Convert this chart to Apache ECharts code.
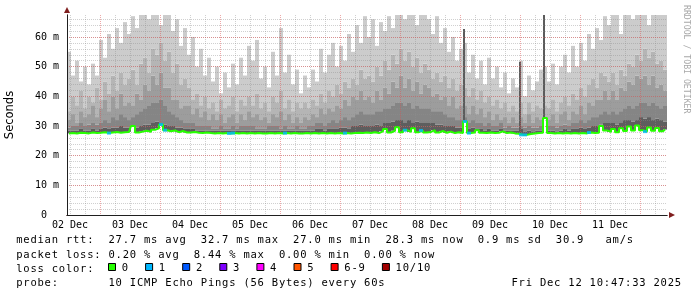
<!DOCTYPE html>
<html>
<head>
<meta charset="utf-8">
<script src="https://cdn.jsdelivr.net/npm/echarts@6/dist/echarts.min.js"></script>
<style>html,body{margin:0;padding:0;background:#fff}#c{width:697px;height:297px}</style>
</head>
<body>
<div id="c"></div>
<script>
// ---- time frame (hours since 02 Dec 00:00) ----
const START_HOUR = 10 + 47 / 60 + 33 / 3600;   // Dec 2 10:47:33
const SPAN_HOURS = 240;                          // last 10 days
const Y_MAX = 67.4;                              // ms at top of plot
const dayLabels = ['02 Dec','03 Dec','04 Dec','05 Dec','06 Dec','07 Dec','08 Dec','09 Dec','10 Dec','11 Dec'];

// ---- median rtt per bin (ms), 150 bins of 96 min ----
const medianRtt = [
  27.5,27.6,27.5,27.7,27.6,27.5,27.8,27.6,27.7,27.9,27.6,27.8,28.0,27.7,27.9,
  28.0,30.0,27.8,28.1,28.4,28.0,28.7,29.2,30.5,28.6,28.2,28.5,27.9,28.3,27.8,
  27.8,28.0,27.7,27.6,27.8,27.6,27.5,27.6,27.5,27.6,27.5,27.6,27.5,27.6,27.5,
  27.6,27.5,27.6,27.5,27.5,27.6,27.5,27.6,27.5,27.6,27.5,27.6,27.5,27.5,27.6,
  27.5,27.6,27.5,27.6,27.5,27.6,27.5,27.6,27.5,27.6,27.5,27.6,27.7,27.6,27.8,
  27.6,27.9,27.6,28.2,29.0,27.8,28.4,29.6,27.9,28.6,28.0,29.2,27.9,28.5,27.8,
  28.0,28.6,27.8,28.3,27.7,28.1,27.6,27.9,27.6,31.5,27.6,27.8,28.6,27.7,27.6,
  27.8,27.6,27.7,28.2,27.6,27.8,27.5,27.4,27.0,27.0,27.3,27.5,27.6,27.7,32.7,
  27.6,27.5,27.6,27.5,27.6,27.5,27.6,27.5,27.6,27.5,27.8,27.6,27.7,30.0,28.5,
  28.0,29.0,27.9,29.2,28.3,29.8,28.5,30.2,28.6,28.1,29.5,28.4,29.3,28.2,28.8
];

// ---- lost pings (of 10) per bin ----
const lostPings = [
  0,0,0,0,0,0,0,0,0,0,1,0,0,0,0,
  0,0,0,0,0,0,0,0,1,1,0,0,0,0,0,
  0,0,0,0,0,0,0,0,0,0,1,1,0,0,0,
  0,0,0,0,0,0,0,0,0,1,0,0,0,0,0,
  0,0,0,0,0,0,0,0,0,1,0,0,0,0,0,
  0,0,0,0,0,0,0,0,0,1,0,0,0,1,0,
  0,0,0,0,0,0,0,0,0,1,1,0,0,0,0,
  0,0,0,0,0,0,0,0,1,1,0,0,0,0,0,
  0,0,0,0,0,0,0,0,0,0,1,0,0,0,0,
  0,0,0,0,0,0,0,0,0,1,0,0,0,0,0
];

// ---- smoke layers: top of each shade (ms), outermost first ----
const smokeL1 = [
  55,47,52,45,50,44,51,47,59,53,61,56,63,58,65,
  61,67,63,68,68,66,68,68,64,68,68,62,66,57,63,
  54,60,50,56,47,53,45,50,41,48,43,51,44,53,47,
  57,52,59,46,50,43,55,47,63,48,54,44,49,41,47,
  43,49,45,56,48,54,58,50,57,52,61,55,64,58,67,
  60,66,57,65,62,67,63,68,68,66,68,68,64,68,68,
  66,61,67,58,63,55,60,52,56,58,48,54,46,52,44,
  53,46,50,43,48,41,46,43,52,40,47,42,45,49,50,
  45,51,44,50,54,48,57,50,58,52,61,56,63,59,67,
  64,68,68,61,68,68,66,68,68,68,64,68,68,68,68
];
const smokeL2 = [
  35,40,37,42,36,40,38,43,39,45,41,47,42,48,44,
  46,49,44,51,53,48,56,54,58,52,55,48,51,44,46,
  43,39,41,37,40,36,38,35,39,36,37,40,35,39,37,
  40,37,41,36,38,35,40,38,42,36,39,35,38,36,38,
  36,39,37,41,38,42,40,44,41,45,43,46,44,49,46,
  47,45,50,47,52,49,54,51,56,52,55,50,53,48,51,
  49,46,48,45,47,43,46,42,44,43,40,43,39,42,38,
  40,37,39,36,38,35,37,35,38,34,38,35,37,36,37,
  36,39,35,38,40,37,41,39,43,40,44,46,43,48,47,
  45,48,44,49,47,51,50,54,52,56,53,55,51,52,49
];
const smokeL3 = [
  32,34,31,35,33,34,37,33,36,39,35,40,36,41,37,
  38,37,41,39,44,42,47,44,48,43,43,39,39,36,37,
  37,34,36,33,35,32,34,32,34,31,33,34,31,34,32,
  35,33,34,32,33,31,34,33,35,32,34,31,33,31,33,
  32,34,33,36,34,36,35,37,36,39,37,40,39,42,39,
  40,38,42,39,43,41,45,43,47,43,46,42,45,41,44,
  43,40,41,39,40,37,40,36,37,37,34,37,34,36,33,
  35,32,34,32,33,31,33,31,33,31,34,31,33,32,33,
  32,34,31,34,35,32,35,34,37,34,38,37,39,39,42,
  39,42,39,43,42,45,44,47,46,47,44,47,43,44,42
];
const smokeL4 = [
  29.5,30,30,31,30,30.5,31,30.5,31,32,31,33,32,34,33,
  32,33,34,35,36,37,38,38,39,37,35,34,33,32,31,
  31,31,30,30,30,30,29,29,30,29,29,30,29,30,30,
  30,30,29,29,29,30,30,30,29,30,29,29,30,29,29,
  30,30,31,31,30,31,32,31,32,33,32,33,34,35,34,
  34,34,35,35,36,36,37,38,38,37,38,36,37,36,36,
  36,35,35,35,34,33,33,32,32,33,31,32,31,31,30,
  31,30,30,31,29.5,30,29.5,29.5,30,29.5,30,29.5,29.5,30,33,
  30,30,29.5,30,30.5,30,31,31,32,31,32,33,33,34,35,
  34,35,34,35,36,37,36,37,38,38,37,38,37,36,37
];
const smokeL5 = [
  28.5,28.5,28.5,29,28.5,28.5,29,28.5,29,29.5,29,29.5,29.5,30,29.5,
  29.5,30.3,29.5,30,30.5,30.5,31,31.5,31,30.5,30,30,29.5,29.5,29,
  29,29,28.5,28.5,28.5,28.5,28.5,28.5,28.5,28.5,28.5,28.5,28.5,28.5,28.5,
  28.5,28.5,28.5,28.5,28.5,28.5,28.5,28.5,28.5,28.5,28.5,28.5,28.5,28.5,28.5,
  28.5,28.5,29,29,28.5,29,29,29,29.5,29.5,29,30,30,30.5,30,
  30,30,30.5,30,31,31,31.5,32,32,31,32,31,31.5,31,31,
  31,31,30.5,30.5,30,30,30,29.5,29.5,32,29,29.5,29,29,28.5,
  29,28.5,28.5,29,28.5,28.5,28.5,28.5,29,28,28.5,28,28.5,28.5,32.7,
  28.5,28.5,28,28.5,29,28.5,29,29,29.5,29,29.5,30,30,30.5,31,
  31,31,30.5,31,32,32,31.5,32,33,32.5,33,32,32.5,32,31.5
];

// ---- isolated all-pings-high spikes (bin index, top in ms) ----
const spikeBins = [99, 113, 119];
const spikeTops = [62.7, 51.6, 68];

// ---- legend / text ----
const lossLabels = ['0','1','2','3','4','5','6-9','10/10'];
const lossColors = ['#26ff00','#00b8ff','#0059ff','#7e00ff','#ff00ff','#ff5500','#ff0000','#a10000'];
const statLines = [
  'median rtt:  27.7 ms avg  32.7 ms max  27.0 ms min  28.3 ms now  0.9 ms sd  30.9   am/s',
  'packet loss: 0.20 % avg  8.44 % max  0.00 % min  0.00 % now',
  'loss color:',
  'probe:       10 ICMP Echo Pings (56 Bytes) every 60s'
];
const dateStamp = 'Fri Dec 12 10:47:33 2025';
const watermark = 'RRDTOOL / TOBI OETIKER';
const yAxisTitle = 'Seconds';

// ================= build =================
const MONO = '"DejaVu Sans Mono", monospace';
const cats = medianRtt.map((_, i) => i);
const shadeColors = ['#5e5e5e', '#858585', '#9d9d9d', '#b5b5b5', '#cccccc'];
const layers = [smokeL5, smokeL4, smokeL3, smokeL2, smokeL1];
const BAND = 4; // px per bin (600 px / 150 bins)

let prevTop = medianRtt.slice();
const smokeSeries = layers.map((arr, k) => {
  const deltas = arr.map((v, i) => {
    const top = Math.max(v, prevTop[i]);
    return +(top - prevTop[i]).toFixed(3);
  });
  prevTop = arr.map((v, i) => Math.max(v, prevTop[i]));
  return {
    type: 'bar', stack: 'smoke', data: deltas, xAxisIndex: 0, yAxisIndex: 1,
    barWidth: BAND, barGap: '-100%', barCategoryGap: '0%', silent: true, z: 2,
    itemStyle: { color: shadeColors[k] }
  };
});

// spike columns (thin, own stack)
const spikeBase = medianRtt.map((v, i) => (spikeBins.indexOf(i) >= 0 ? v : '-'));
const spikeDelta = medianRtt.map((v, i) => {
  const j = spikeBins.indexOf(i);
  return j >= 0 ? +(spikeTops[j] - v).toFixed(3) : '-';
});

function lossBucket(n) { return n <= 5 ? n : (n < 10 ? 6 : 7); }
const lossPoints = [];
lostPings.forEach((n, i) => {
  if (n > 0) lossPoints.push({ value: [i, medianRtt[i]], itemStyle: { color: lossColors[lossBucket(n)] } });
});

// grid helper hour lists
const firstTick = Math.ceil(START_HOUR / 6) * 6;
const minorHours = [], majorHours = [];
for (let h = firstTick; h <= START_HOUR + SPAN_HOURS; h += 6) {
  if (h % 24 === 0) majorHours.push(h); else minorHours.push(h);
}
const noonHours = dayLabels.map((_, i) => 12 + 24 * i);

// text graphics
const CH = 7.1, X0 = 16.2, FONT = '10.5px ' + MONO;
const lineY = [240.7, 255.3, 269, 283.3];
function charTexts(str, x0, yc) {
  const out = [];
  for (let i = 0; i < str.length; i++) {
    if (str[i] === ' ') continue;
    out.push({ type: 'text', x: x0 + i * CH, y: yc, silent: true,
      style: { text: str[i], font: FONT, fill: '#000', align: 'left', verticalAlign: 'middle',
               textAlign: 'left', textVerticalAlign: 'middle' } });
  }
  return out;
}
let graphics = [];
statLines.forEach((s, r) => { graphics = graphics.concat(charTexts(s, X0, lineY[r])); });
graphics = graphics.concat(charTexts(dateStamp, 511.5, lineY[3]));
let bx = 108;
lossLabels.forEach((lab, i) => {
  graphics.push({ type: 'rect', silent: true,
    shape: { x: bx + 0.5, y: 263.5, width: 7, height: 7 },
    style: { fill: lossColors[i], stroke: '#000', lineWidth: 1 } });
  const lx = bx + 13.7;
  graphics = graphics.concat(charTexts(lab, lx, lineY[2] - 0.5));
  bx = lx + lab.length * CH + 16.3;
});
graphics.push({ type: 'text', x: 686.5, y: 5, rotation: -Math.PI / 2, silent: true,
  style: { text: watermark, font: '8.2px ' + MONO, fill: '#a8a8a8', align: 'left', verticalAlign: 'middle',
           textAlign: 'left', textVerticalAlign: 'middle' } });

const grayGrid = { color: 'rgba(143,143,143,0.42)', width: 1, type: [1, 1] };
const redGrid = { color: 'rgba(222,79,79,0.5)', width: 1, type: [1, 1] };
const arrowCol = '#801f1f', axisCol = '#1f1f1f';

const option = {
  animation: false,
  backgroundColor: '#ffffff',
  grid: { left: 67, top: 15, width: 600, height: 200, containLabel: false, outerBoundsMode: 'none' },
  xAxis: [
    { type: 'category', data: cats, show: false, boundaryGap: true, position: 'bottom' },
    { type: 'value', min: START_HOUR, max: START_HOUR + SPAN_HOURS, position: 'bottom', z: 5,
      axisLine: { show: true, lineStyle: { color: arrowCol, width: 1 }, symbol: ['none', 'triangle'], symbolSize: [6, 6], symbolOffset: [0, 5] },
      axisTick: { show: false, customValues: minorHours },
      axisLabel: { show: false },
      splitLine: { show: true, showMinLine: true, showMaxLine: true, lineStyle: grayGrid } },
    { type: 'value', min: START_HOUR, max: START_HOUR + SPAN_HOURS, position: 'bottom', z: 6,
      axisLine: { show: true, lineStyle: { color: axisCol, width: 1 } },
      axisTick: { show: false, customValues: majorHours },
      axisLabel: { show: true, customValues: noonHours, margin: 5,
        fontFamily: MONO, fontSize: 10, color: '#000',
        formatter: v => dayLabels[Math.round((v - 12) / 24)] },
      splitLine: { show: true, lineStyle: redGrid } }
  ],
  yAxis: [
    { type: 'value', min: 0, max: Y_MAX, interval: 2, position: 'left', z: 5,
      axisLine: { show: true, lineStyle: { color: arrowCol, width: 1 }, symbol: ['none', 'triangle'], symbolSize: [6, 6], symbolOffset: [0, 5] },
      axisTick: { show: false }, axisLabel: { show: false },
      splitLine: { show: true, showMinLine: false, showMaxLine: false, lineStyle: grayGrid } },
    { type: 'value', min: 0, max: Y_MAX, interval: 10, position: 'left', z: 6,
      axisLine: { show: true, lineStyle: { color: axisCol, width: 1 } },
      axisTick: { show: false },
      axisLabel: { show: true, showMaxLabel: false, margin: 8, fontFamily: MONO, fontSize: 10, color: '#000',
        formatter: v => (v === 0 ? '0  ' : v + ' m') },
      splitLine: { show: true, showMinLine: false, showMaxLine: false, lineStyle: redGrid },
      name: yAxisTitle, nameLocation: 'middle', nameRotate: 90, nameGap: 51,
      nameTextStyle: { fontFamily: '"DejaVu Sans", sans-serif', fontSize: 11.5, color: '#000' } }
  ],
  series: [
    { type: 'bar', stack: 'spike', data: spikeBase, xAxisIndex: 0, yAxisIndex: 1, silent: true,
      barWidth: 2, barGap: '-100%', barCategoryGap: '0%', itemStyle: { color: 'rgba(0,0,0,0)' }, z: 3 },
    { type: 'bar', stack: 'spike', data: spikeDelta, xAxisIndex: 0, yAxisIndex: 1, silent: true,
      barWidth: 2, barGap: '-100%', barCategoryGap: '0%', itemStyle: { color: '#5c5c5c' }, z: 3 },
    { type: 'bar', stack: 'smoke', data: medianRtt, xAxisIndex: 0, yAxisIndex: 1, silent: true,
      barWidth: BAND, barGap: '-100%', barCategoryGap: '0%', itemStyle: { color: 'rgba(0,0,0,0)' }, z: 2 }
  ].concat(smokeSeries).concat([
    { type: 'line', data: medianRtt, xAxisIndex: 0, yAxisIndex: 1, step: 'middle', silent: true,
      symbol: 'none', lineStyle: { color: '#26ff00', width: 2 }, z: 10 },
    { type: 'scatter', data: lossPoints, xAxisIndex: 0, yAxisIndex: 1, silent: true,
      symbol: 'rect', symbolSize: [4, 3], z: 11 }
  ]),
  graphic: graphics
};

const chart = echarts.init(document.getElementById('c'), null, { renderer: 'canvas', width: 697, height: 297 });
chart.setOption(option);
</script>
</body>
</html>
